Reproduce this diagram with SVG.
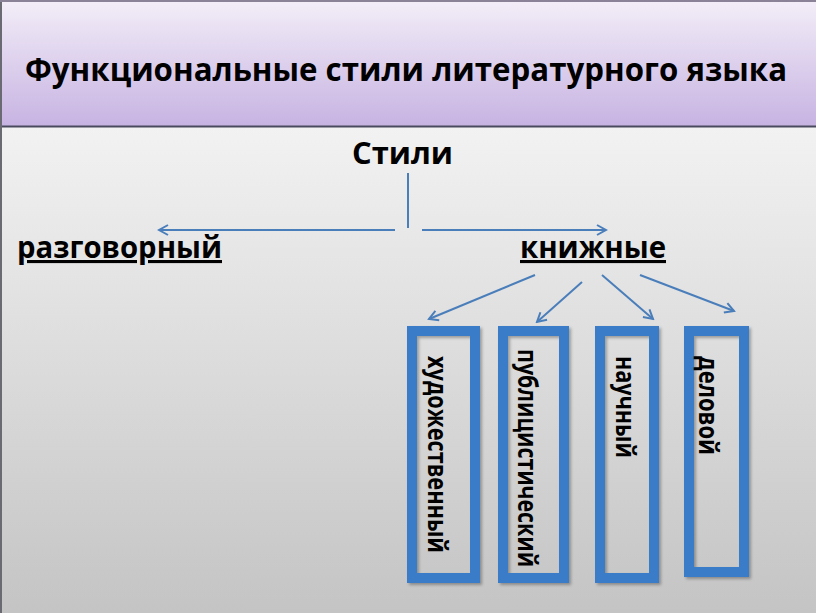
<svg xmlns="http://www.w3.org/2000/svg" width="816" height="613" viewBox="0 0 816 613">
<defs>
<linearGradient id="hdr" x1="0" y1="0" x2="0" y2="1">
<stop offset="0" stop-color="#f3eef8"/>
<stop offset="1" stop-color="#c7b3e2"/>
</linearGradient>
<linearGradient id="body" x1="0" y1="0" x2="0" y2="1">
<stop offset="0" stop-color="#f2f2f2"/>
<stop offset="1" stop-color="#c4c4c4"/>
</linearGradient>
<marker id="ah" viewBox="0 0 12 12" refX="10" refY="6" markerWidth="12" markerHeight="12" markerUnits="userSpaceOnUse" orient="auto">
<path d="M1,1 L10,6 L1,11" fill="none" stroke="#4a7ebb" stroke-width="2"/>
</marker>
<filter id="sh" x="-20%" y="-10%" width="140%" height="120%">
<feDropShadow dx="2" dy="2" stdDeviation="1.5" flood-color="#000" flood-opacity="0.3"/>
</filter>
</defs>
<style>
text{font-family:"Open Sans","Noto Sans","DejaVu Sans",sans-serif;font-weight:bold;fill:#000}
.ln{stroke:#4a7ebb;stroke-width:2;fill:none}
.box{fill:none;stroke:#3b7cc9;stroke-width:10}
</style>
<rect x="0" y="127" width="816" height="486" fill="url(#body)"/>
<rect x="0" y="0" width="816" height="126" fill="url(#hdr)"/>
<line x1="0" y1="126.5" x2="816" y2="126.5" stroke="#4a4a5e" stroke-width="2"/>
<line x1="1" y1="0" x2="1" y2="613" stroke="#6a6a72" stroke-width="2"/>
<line x1="0" y1="1" x2="816" y2="1" stroke="#8a8296" stroke-width="2"/>

<g id="title"><text x="25" y="81" font-size="32" textLength="762" lengthAdjust="spacingAndGlyphs">Функциональные стили литературного языка</text></g>

<g id="styles"><text x="352" y="164" font-size="31" textLength="101" lengthAdjust="spacingAndGlyphs">Стили</text></g>

<g id="razg"><text x="17" y="258" font-size="31" textLength="205" lengthAdjust="spacingAndGlyphs" text-decoration="underline">разговорный</text></g>
<g id="knizh"><text x="520" y="258" font-size="31" textLength="146" lengthAdjust="spacingAndGlyphs" text-decoration="underline">книжные</text></g>

<g id="connectors">
<line class="ln" x1="408" y1="173" x2="408" y2="228"/>
<line class="ln" x1="395" y1="230" x2="159" y2="230" marker-end="url(#ah)"/>
<line class="ln" x1="422" y1="230" x2="606" y2="230" marker-end="url(#ah)"/>
<line class="ln" x1="535" y1="275" x2="429" y2="319" marker-end="url(#ah)"/>
<line class="ln" x1="582" y1="282" x2="537" y2="322" marker-end="url(#ah)"/>
<line class="ln" x1="602" y1="275" x2="653" y2="319" marker-end="url(#ah)"/>
<line class="ln" x1="640" y1="275" x2="734" y2="311" marker-end="url(#ah)"/>
</g>

<g id="box-hud">
<rect class="box" x="412" y="331" width="63" height="247" filter="url(#sh)"/>
<text transform="translate(428,356) rotate(90)" font-size="27" textLength="197" lengthAdjust="spacingAndGlyphs">художественный</text>
</g>
<g id="box-pub">
<rect class="box" x="503" y="331" width="61" height="247" filter="url(#sh)"/>
<text transform="translate(518,349) rotate(90)" font-size="27" textLength="218" lengthAdjust="spacingAndGlyphs">публицистический</text>
</g>
<g id="box-nauch">
<rect class="box" x="600" y="331" width="54" height="247" filter="url(#sh)"/>
<text transform="translate(616,356) rotate(90)" font-size="27" textLength="102" lengthAdjust="spacingAndGlyphs">научный</text>
</g>
<g id="box-del">
<rect class="box" x="689" y="331" width="55" height="241" filter="url(#sh)"/>
<text transform="translate(699,356) rotate(90)" font-size="27" textLength="99" lengthAdjust="spacingAndGlyphs">деловой</text>
</g>
</svg>
